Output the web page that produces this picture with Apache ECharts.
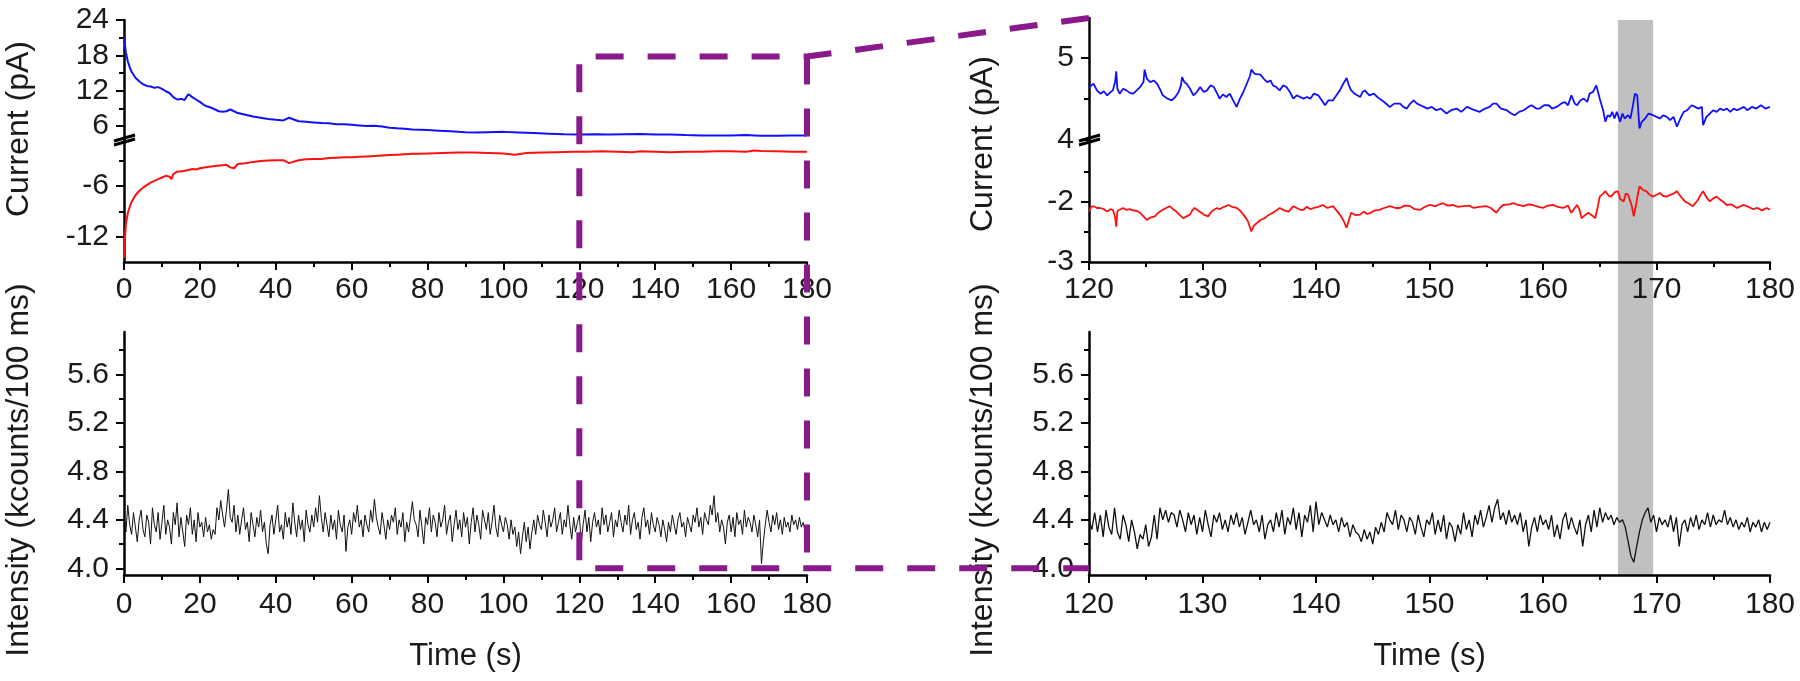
<!DOCTYPE html>
<html>
<head>
<meta charset="utf-8">
<script src="https://cdn.jsdelivr.net/npm/echarts@6/dist/echarts.min.js"></script>
<style>html,body{margin:0;padding:0;background:#fff}#c{width:1800px;height:681px}</style>
</head>
<body>
<div id="c"></div>
<script>
// ---------------- DATA ----------------
const leftBlueTime = [0,0.5,1,1.5,2,3,4,5,6,7,8,9,10,11,12,13,14,15,16,16.5,17,18,19,20,21,22,23,24,25,26,27,28,29,30,32,34,36,38,40,42,43.5,44,46,48,50,52,54,56,58,60,62,64,66,68,70,72,74,76,78,80,83,86,90,93,96,100,104,108,112,116,120,124,128,132,136,140,144,148,152,156,160,164,166,168,172,176,180];
const leftBlueCurrent = [21.0,18.5,17.0,16.0,15.2,14.2,13.6,13.1,12.8,12.7,12.5,12.6,12.3,11.9,11.6,10.9,10.5,10.6,10.4,11.0,11.4,10.9,10.5,10.1,9.6,9.3,9.1,8.8,8.5,8.4,8.5,8.8,8.5,8.2,7.9,7.6,7.4,7.2,7.05,6.95,7.4,7.1,6.8,6.7,6.6,6.5,6.45,6.3,6.3,6.2,6.1,6.0,6.05,5.9,5.7,5.6,5.55,5.4,5.35,5.3,5.2,5.1,4.95,4.9,4.95,5.0,4.9,4.8,4.7,4.6,4.55,4.6,4.55,4.6,4.65,4.55,4.55,4.45,4.4,4.4,4.4,4.45,4.4,4.35,4.35,4.4,4.4];
const leftRedTime = [0,0.2,0.5,1,1.5,2,3,4,5,6,7,8,9,10,11,12,12.5,13,14,15,16,17,18,19,20,22,24,26,27,28,29,30,32,34,36,38,40,42,43.5,44,46,48,50,52,54,56,58,60,62,64,66,68,70,72,74,76,78,80,84,88,92,96,100,103,106,110,114,118,122,126,130,134,136,140,144,148,152,156,160,164,166,168,172,176,180];
const leftRedCurrent = [-14.5,-12.5,-10.5,-9.2,-8.5,-7.9,-7.1,-6.6,-6.2,-5.9,-5.6,-5.4,-5.2,-5.0,-4.8,-4.9,-5.2,-4.6,-4.3,-4.3,-4.2,-4.1,-4.0,-4.05,-3.9,-3.75,-3.65,-3.55,-3.5,-3.8,-3.9,-3.4,-3.3,-3.15,-3.05,-3.0,-2.95,-2.95,-3.3,-3.1,-2.95,-2.85,-2.8,-2.8,-2.7,-2.65,-2.6,-2.6,-2.55,-2.5,-2.45,-2.4,-2.35,-2.3,-2.25,-2.2,-2.2,-2.15,-2.1,-2.05,-2.05,-2.1,-2.15,-2.3,-2.1,-2.05,-2.0,-1.95,-1.95,-1.9,-1.95,-2.0,-1.9,-1.95,-2.0,-1.95,-1.95,-1.9,-1.9,-1.95,-1.8,-1.85,-1.9,-1.95,-1.95];

const leftIntensityStart = 0, leftIntensityStep = 0.5;
const leftIntensity = [
4.44,4.30,4.52,4.36,4.28,4.46,4.34,4.22,4.40,4.48,4.32,4.26,4.44,4.38,4.20,4.50,4.36,4.30,4.46,4.24,
4.38,4.52,4.28,4.40,4.34,4.20,4.46,4.36,4.54,4.26,4.42,4.30,4.18,4.44,4.36,4.50,4.28,4.40,4.22,4.46,
4.34,4.38,4.26,4.42,4.30,4.36,4.24,4.32,4.28,4.50,4.40,4.56,4.44,4.34,4.48,4.65,4.42,4.38,4.52,4.30,
4.44,4.28,4.40,4.50,4.32,4.38,4.22,4.46,4.36,4.26,4.42,4.34,4.48,4.30,4.38,4.20,4.12,4.36,4.44,4.28,
4.40,4.52,4.30,4.36,4.24,4.46,4.34,4.42,4.28,4.54,4.38,4.26,4.44,4.32,4.40,4.22,4.48,4.36,4.30,4.44,
4.34,4.50,4.38,4.60,4.42,4.30,4.46,4.36,4.26,4.44,4.32,4.40,4.24,4.48,4.36,4.30,4.44,4.14,4.34,4.40,
4.28,4.46,4.38,4.52,4.34,4.40,4.26,4.44,4.36,4.30,4.48,4.38,4.57,4.42,4.34,4.28,4.46,4.36,4.24,4.40,
4.32,4.44,4.38,4.50,4.28,4.40,4.34,4.46,4.22,4.38,4.30,4.42,4.55,4.40,4.36,4.26,4.48,4.34,4.20,4.42,
4.36,4.50,4.30,4.44,4.38,4.26,4.46,4.34,4.40,4.52,4.28,4.38,4.44,4.22,4.36,4.48,4.32,4.40,4.26,4.46,
4.34,4.42,4.20,4.38,4.50,4.30,4.44,4.36,4.24,4.48,4.40,4.32,4.46,4.28,4.38,4.52,4.34,4.26,4.44,4.36,
4.30,4.42,4.36,4.24,4.40,4.28,4.34,4.18,4.30,4.12,4.26,4.38,4.22,4.34,4.16,4.30,4.40,4.28,4.44,4.36,
4.32,4.48,4.38,4.26,4.44,4.34,4.40,4.50,4.30,4.38,4.46,4.28,4.40,4.34,4.52,4.36,4.24,4.42,4.30,4.38,
4.44,4.20,4.36,4.48,4.30,4.42,4.22,4.38,4.46,4.34,4.40,4.28,4.50,4.36,4.44,4.30,4.38,4.46,4.26,4.40,
4.34,4.48,4.38,4.30,4.44,4.36,4.52,4.28,4.40,4.46,4.32,4.38,4.24,4.42,4.50,4.34,4.40,4.28,4.46,4.36,
4.30,4.42,4.36,4.26,4.40,4.32,4.22,4.38,4.30,4.44,4.36,4.28,4.40,4.46,4.34,4.38,4.26,4.42,4.36,4.30,
4.44,4.38,4.50,4.34,4.42,4.28,4.46,4.40,4.36,4.52,4.44,4.60,4.38,4.46,4.30,4.40,4.34,4.20,4.38,4.44,
4.30,4.42,4.26,4.46,4.36,4.40,4.28,4.48,4.34,4.42,4.38,4.30,4.44,4.36,4.26,4.40,4.04,4.22,4.36,4.48,
4.38,4.30,4.44,4.36,4.46,4.32,4.40,4.28,4.42,4.34,4.38,4.30,4.44,4.36,4.40,4.32,4.42,4.34,4.38,4.30,
4.36];

const rightBlueTime = [120.0,120.2,120.4,120.7,121.0,121.3,121.6,121.9,122.1,122.3,122.4,122.5,122.7,123.0,123.3,123.6,123.9,124.2,124.5,124.8,124.9,125.1,125.4,125.7,126.0,126.3,126.5,126.9,127.3,127.6,127.9,128.1,128.2,128.4,128.6,128.9,129.2,129.5,129.8,130.1,130.4,130.7,131.0,131.3,131.5,131.8,132.1,132.4,132.7,133.0,133.3,133.6,133.9,134.2,134.3,134.6,135.1,135.4,135.7,136.0,136.2,136.5,136.8,137.1,137.4,137.7,138.0,138.3,138.6,138.9,139.2,139.5,139.8,140.2,140.5,140.8,141.1,141.5,141.8,142.1,142.4,142.7,142.9,143.1,143.4,143.9,144.1,144.3,144.7,145.1,145.4,145.6,146.0,146.5,146.9,147.4,147.7,148.0,148.3,148.6,148.9,149.2,149.5,149.8,150.2,150.6,151.0,151.5,151.9,152.4,152.8,153.3,153.8,154.4,154.9,155.3,155.6,155.9,156.3,156.8,157.2,157.5,157.9,158.3,158.7,159.0,159.4,159.7,160.1,160.5,160.8,161.2,161.6,161.9,162.2,162.5,162.8,163.0,163.3,163.6,163.9,164.1,164.4,164.7,165.0,165.3,165.5,165.7,165.9,166.1,166.3,166.5,166.8,167.0,167.2,167.5,167.7,167.9,168.1,168.3,168.5,168.7,169.0,169.3,169.7,170.0,170.3,170.6,170.9,171.2,171.5,171.8,172.1,172.4,172.7,173.1,173.4,173.7,174.0,174.1,174.4,174.7,175.0,175.3,175.6,175.9,176.2,176.5,176.8,177.1,177.4,177.7,178.0,178.4,178.8,179.2,179.6,180.0];
const rightBlueCurrent = [4.63,4.66,4.68,4.60,4.56,4.59,4.54,4.58,4.60,4.70,4.83,4.62,4.56,4.62,4.60,4.57,4.56,4.60,4.64,4.70,4.85,4.74,4.70,4.72,4.68,4.60,4.54,4.50,4.48,4.52,4.58,4.66,4.76,4.70,4.68,4.62,4.54,4.58,4.64,4.58,4.60,4.66,4.64,4.56,4.50,4.55,4.52,4.56,4.48,4.40,4.50,4.58,4.68,4.78,4.85,4.80,4.79,4.74,4.70,4.72,4.66,4.64,4.60,4.66,4.64,4.58,4.50,4.54,4.52,4.50,4.52,4.50,4.56,4.54,4.48,4.42,4.48,4.48,4.54,4.60,4.68,4.75,4.66,4.60,4.56,4.52,4.58,4.60,4.54,4.56,4.52,4.50,4.46,4.40,4.44,4.44,4.40,4.38,4.44,4.48,4.44,4.42,4.40,4.38,4.40,4.36,4.38,4.32,4.36,4.38,4.34,4.40,4.37,4.34,4.38,4.40,4.44,4.44,4.38,4.36,4.32,4.30,4.34,4.36,4.40,4.42,4.38,4.38,4.42,4.42,4.38,4.40,4.44,4.46,4.42,4.54,4.44,4.42,4.48,4.50,4.46,4.56,4.58,4.66,4.50,4.36,4.22,4.30,4.28,4.34,4.26,4.34,4.22,4.32,4.26,4.30,4.26,4.40,4.56,4.54,4.14,4.22,4.26,4.32,4.30,4.28,4.26,4.30,4.28,4.24,4.28,4.16,4.26,4.34,4.36,4.42,4.40,4.38,4.40,4.18,4.28,4.32,4.36,4.34,4.38,4.36,4.38,4.34,4.38,4.36,4.38,4.40,4.36,4.40,4.38,4.42,4.38,4.40];

const rightRedTime = [120.0,120.2,120.4,120.7,121.0,121.3,121.6,121.9,122.1,122.3,122.4,122.5,122.7,123.0,123.3,123.6,123.9,124.2,124.5,124.8,125.1,125.4,125.8,126.1,126.5,126.8,127.1,127.4,127.7,128.0,128.3,128.6,128.9,129.1,129.3,129.6,129.9,130.2,130.5,130.8,131.0,131.3,131.5,131.9,132.3,132.6,133.0,133.3,133.6,133.8,134.0,134.3,134.5,134.8,135.1,135.5,135.8,136.2,136.5,136.8,137.2,137.6,138.0,138.3,138.6,138.9,139.2,139.5,139.8,140.2,140.6,141.0,141.5,141.8,142.1,142.4,142.7,142.9,143.1,143.5,143.9,144.2,144.5,144.8,145.2,145.6,146.0,146.5,147.0,147.4,147.8,148.3,148.7,149.2,149.6,150.0,150.5,151.0,151.2,151.6,152.1,152.5,153.0,153.5,153.9,154.4,155.0,155.4,155.9,156.2,156.5,157.0,157.4,157.8,158.3,158.7,159.1,159.6,160.0,160.4,160.9,161.3,161.8,162.2,162.5,162.8,163.0,163.2,163.4,163.7,164.0,164.3,164.6,164.8,165.0,165.3,165.5,165.8,166.0,166.3,166.6,166.8,167.1,167.3,167.5,167.8,168.0,168.2,168.3,168.5,168.8,169.1,169.4,169.7,170.0,170.3,170.6,170.9,171.2,171.5,171.8,172.1,172.5,172.8,173.2,173.6,173.9,174.1,174.4,174.7,175.0,175.3,175.6,175.9,176.2,176.6,177.1,177.5,177.7,178.1,178.5,178.9,179.3,179.7,180.0];
const rightRedCurrent = [-2.16,-2.08,-2.07,-2.10,-2.10,-2.12,-2.16,-2.12,-2.13,-2.25,-2.41,-2.15,-2.13,-2.10,-2.13,-2.12,-2.14,-2.15,-2.18,-2.24,-2.30,-2.26,-2.24,-2.18,-2.13,-2.10,-2.07,-2.12,-2.16,-2.22,-2.27,-2.24,-2.21,-2.14,-2.10,-2.14,-2.18,-2.22,-2.24,-2.16,-2.13,-2.10,-2.12,-2.08,-2.05,-2.08,-2.10,-2.14,-2.21,-2.26,-2.32,-2.49,-2.40,-2.35,-2.30,-2.27,-2.22,-2.18,-2.14,-2.10,-2.14,-2.16,-2.07,-2.10,-2.13,-2.13,-2.08,-2.12,-2.10,-2.08,-2.05,-2.10,-2.07,-2.14,-2.21,-2.30,-2.43,-2.30,-2.18,-2.22,-2.21,-2.16,-2.20,-2.18,-2.14,-2.13,-2.10,-2.07,-2.10,-2.10,-2.06,-2.07,-2.12,-2.13,-2.08,-2.05,-2.07,-2.03,-2.02,-2.06,-2.05,-2.08,-2.07,-2.06,-2.10,-2.08,-2.07,-2.10,-2.18,-2.10,-2.05,-2.04,-2.02,-2.05,-2.07,-2.04,-2.05,-2.08,-2.10,-2.06,-2.05,-2.08,-2.10,-2.06,-2.18,-2.10,-2.05,-2.12,-2.27,-2.22,-2.18,-2.22,-2.27,-2.10,-1.91,-1.86,-1.82,-1.90,-1.91,-1.84,-1.82,-1.95,-1.99,-1.86,-1.88,-2.05,-2.24,-2.05,-1.93,-1.74,-1.80,-1.82,-1.88,-1.91,-1.88,-1.85,-1.90,-1.91,-1.88,-1.86,-1.82,-1.90,-1.99,-2.02,-2.07,-1.98,-1.88,-1.82,-1.92,-1.99,-1.94,-1.91,-1.96,-2.00,-2.05,-2.04,-2.10,-2.06,-2.05,-2.08,-2.12,-2.10,-2.14,-2.10,-2.13];

const rightIntensityStart = 120, rightIntensityStep = 0.25;
const rightIntensity = [
4.40,4.32,4.46,4.30, 4.44,4.26,4.48,4.34, 4.28,4.50,4.30,4.24, 4.44,4.36,4.22,4.40, 4.30,4.16,4.28,4.24,
4.36,4.18,4.26,4.44, 4.24,4.50,4.40,4.48, 4.38,4.46,4.44,4.34, 4.48,4.40,4.30,4.46, 4.36,4.44,4.28,4.42,
4.30,4.48,4.36,4.26, 4.44,4.38,4.46,4.32, 4.40,4.30,4.44,4.36, 4.46,4.34,4.42,4.28, 4.38,4.48,4.36,4.40,
4.30,4.44,4.24,4.36, 4.40,4.30,4.46,4.34, 4.48,4.28,4.42,4.36, 4.50,4.32,4.46,4.26, 4.44,4.38,4.52,4.30,
4.55,4.36,4.46,4.40, 4.34,4.44,4.36,4.40, 4.30,4.42,4.34,4.38, 4.26,4.36,4.30,4.28, 4.22,4.32,4.24,4.30,
4.20,4.34,4.28,4.38, 4.30,4.46,4.40,4.36, 4.48,4.32,4.44,4.40, 4.30,4.42,4.38,4.28, 4.44,4.34,4.26,4.40,
4.36,4.46,4.28,4.40, 4.30,4.44,4.24,4.38, 4.34,4.22,4.36,4.28, 4.46,4.32,4.40,4.26, 4.44,4.36,4.48,4.34,
4.42,4.52,4.38,4.50, 4.57,4.40,4.46,4.36, 4.48,4.38,4.44,4.36, 4.46,4.30,4.40,4.18, 4.34,4.42,4.30,4.44,
4.36,4.40,4.32,4.44, 4.26,4.36,4.24,4.40, 4.46,4.32,4.42,4.34, 4.28,4.40,4.18,4.36, 4.44,4.30,4.48,4.34,
4.50,4.38,4.46,4.40, 4.44,4.36,4.42,4.38, 4.40,4.34,4.22,4.10, 4.05,4.18,4.30,4.40, 4.46,4.50,4.38,4.44,
4.30,4.42,4.36,4.40, 4.34,4.44,4.30,4.42, 4.18,4.36,4.40,4.30, 4.42,4.34,4.44,4.32, 4.40,4.36,4.46,4.34,
4.44,4.36,4.40,4.38, 4.48,4.36,4.42,4.34, 4.40,4.32,4.38,4.34, 4.42,4.30,4.38,4.34, 4.40,4.30,4.38,4.32,
4.38];

// tick labels
const leftTimeTicks = {min: 0, max: 180, interval: 20};
const rightTimeTicks = {min: 120, max: 180, interval: 10};
const leftUpperTicks = [6, 12, 18, 24], leftUpperMinor = [9, 15, 21];
const leftLowerTicks = [-12, -6], leftLowerMinor = [-9, -3];
const rightUpperTicks = [4, 5], rightUpperMinor = [4.5];
const rightLowerTicks = [-3, -2], rightLowerMinor = [-2.5, -1.5];
const intensityTicks = [4.0, 4.4, 4.8, 5.2, 5.6], intensityMinor = [4.2, 4.6, 5.0, 5.4, 5.8];
const zoomBox = {t0: 120, t1: 180, currentTop: 17.8, intensityBottom: 4.0};
const highlight = {t0: 166.6, t1: 169.7};

// ---------------- CHART ----------------
const pair = (ts, vs) => ts.map((t, i) => [t, vs[i]]);
const seq = (start, step, vs) => vs.map((v, i) => [+(start + i * step).toFixed(3), v]);

const FONT = 'Liberation Sans, Arial, Helvetica, sans-serif';
const TXT = '#1a1a1a';
const TICK_FS = 30;
const chart = echarts.init(document.getElementById('c'), null, {renderer: 'canvas'});

const grids = [
  {left: 124, top: 20, width: 683, height: 120},
  {left: 124, top: 140, width: 683, height: 122},
  {left: 124, top: 332, width: 683, height: 243},
  {left: 1089, top: 18, width: 681, height: 122},
  {left: 1089, top: 140, width: 681, height: 122},
  {left: 1089, top: 332, width: 681, height: 243}
];

function xAxis(g, spec, visible, margin) {
  return {
    type: 'value', gridIndex: g, min: spec.min, max: spec.max, interval: spec.interval,
    show: visible, position: 'bottom',
    axisLine: {show: true, onZero: false, lineStyle: {color: '#000', width: 2.5}},
    axisTick: {show: true, inside: false, length: 8, lineStyle: {color: '#000', width: 2}},
    minorTick: {show: true, splitNumber: 2, length: 5, lineStyle: {color: '#000', width: 2}},
    axisLabel: {show: true, margin: margin, fontSize: TICK_FS, fontFamily: FONT, color: TXT},
    splitLine: {show: false}, minorSplitLine: {show: false}
  };
}
function yAxis(g, min, max, ticks, fmt) {
  return {
    type: 'value', gridIndex: g, min: min, max: max, position: 'left',
    axisLine: {show: true, onZero: false, lineStyle: {color: '#000', width: 2.5}},
    axisTick: {show: true, inside: false, length: 8, customValues: ticks, lineStyle: {color: '#000', width: 2}},
    axisLabel: {show: true, margin: 15, customValues: ticks, fontSize: TICK_FS, fontFamily: FONT, color: TXT,
      formatter: fmt || (v => String(v))},
    splitLine: {show: false}
  };
}
function yMinor(g, min, max, ticks) {
  return {
    type: 'value', gridIndex: g, min: min, max: max, position: 'left', offset: 0,
    axisLine: {show: false},
    axisTick: {show: true, inside: false, length: 5, customValues: ticks, lineStyle: {color: '#000', width: 2}},
    axisLabel: {show: false},
    splitLine: {show: false}
  };
}
const f1 = v => v.toFixed(1);

const yRanges = [
  [3.62, 24], [-15, -0.56], [3.945, 5.95],
  [4, 5.475], [-3, -0.967], [3.945, 5.95]
];
const timeName = {name: 'Time (s)', nameLocation: 'middle', nameGap: 66,
  nameTextStyle: {fontSize: 31, fontFamily: FONT, color: TXT}};

const option = {
  animation: false,
  backgroundColor: '#fff',
  grid: grids,
  xAxis: [
    xAxis(0, leftTimeTicks, false, 13),
    xAxis(1, leftTimeTicks, true, 13),
    Object.assign(xAxis(2, leftTimeTicks, true, 15), timeName),
    xAxis(3, rightTimeTicks, false, 13),
    xAxis(4, rightTimeTicks, true, 13),
    Object.assign(xAxis(5, rightTimeTicks, true, 15), timeName)
  ],
  yAxis: [
    yAxis(0, yRanges[0][0], yRanges[0][1], leftUpperTicks),
    yAxis(1, yRanges[1][0], yRanges[1][1], leftLowerTicks),
    yAxis(2, yRanges[2][0], yRanges[2][1], intensityTicks, f1),
    yAxis(3, yRanges[3][0], yRanges[3][1], rightUpperTicks),
    yAxis(4, yRanges[4][0], yRanges[4][1], rightLowerTicks),
    yAxis(5, yRanges[5][0], yRanges[5][1], intensityTicks, f1),
    yMinor(0, yRanges[0][0], yRanges[0][1], leftUpperMinor),
    yMinor(1, yRanges[1][0], yRanges[1][1], leftLowerMinor),
    yMinor(2, yRanges[2][0], yRanges[2][1], intensityMinor),
    yMinor(3, yRanges[3][0], yRanges[3][1], rightUpperMinor),
    yMinor(4, yRanges[4][0], yRanges[4][1], rightLowerMinor),
    yMinor(5, yRanges[5][0], yRanges[5][1], intensityMinor)
  ],
  series: [
    {type: 'line', xAxisIndex: 0, yAxisIndex: 0, data: pair(leftBlueTime, leftBlueCurrent), showSymbol: false, symbol: 'none',
      lineStyle: {color: '#1010ff', width: 2}, z: 3},
    {type: 'line', xAxisIndex: 1, yAxisIndex: 1, data: pair(leftRedTime, leftRedCurrent), showSymbol: false, symbol: 'none',
      lineStyle: {color: '#ff1010', width: 2}, z: 3},
    {type: 'line', xAxisIndex: 2, yAxisIndex: 2, data: seq(leftIntensityStart, leftIntensityStep, leftIntensity), showSymbol: false, symbol: 'none',
      lineStyle: {color: '#111', width: 1}, z: 3},
    {type: 'line', xAxisIndex: 3, yAxisIndex: 3, data: pair(rightBlueTime, rightBlueCurrent), showSymbol: false, symbol: 'none',
      lineStyle: {color: '#1010ff', width: 1.8}, z: 3},
    {type: 'line', xAxisIndex: 4, yAxisIndex: 4, data: pair(rightRedTime, rightRedCurrent), showSymbol: false, symbol: 'none',
      lineStyle: {color: '#ff1010', width: 1.8}, z: 3},
    {type: 'line', xAxisIndex: 5, yAxisIndex: 5, data: seq(rightIntensityStart, rightIntensityStep, rightIntensity), showSymbol: false, symbol: 'none',
      lineStyle: {color: '#111', width: 1.3}, z: 3}
  ]
};
chart.setOption(option);

// ---- overlays computed through the axes ----
const P = (xi, yi, x, y) => chart.convertToPixel({xAxisIndex: xi, yAxisIndex: yi}, [x, y]);
const A = P(0, 0, zoomBox.t0, zoomBox.currentTop);
const B = P(0, 0, zoomBox.t1, zoomBox.currentTop);
const C = P(2, 2, zoomBox.t0, zoomBox.intensityBottom);
const D = P(2, 2, zoomBox.t1, zoomBox.intensityBottom);
const E = P(3, 3, rightTimeTicks.min, yRanges[3][1]);
const F = P(5, 5, rightTimeTicks.min, zoomBox.intensityBottom);
const H0 = P(5, 5, highlight.t0, yRanges[5][0]);
const H1 = P(5, 5, highlight.t1, yRanges[5][0]);
const Htop = P(3, 3, highlight.t0, yRanges[3][1])[1] + 2;
const brkL = P(0, 0, leftTimeTicks.min, yRanges[0][0]);
const brkR = P(3, 3, rightTimeTicks.min, yRanges[3][0]);

const PURPLE = '#8a1a8a';
const dash = {stroke: PURPLE, lineWidth: 6, lineDash: [28, 24], fill: null};
function breakMark(p, id) {
  return [
    {type: 'line', id: id + 'a', z: 10, shape: {x1: p[0] - 10, y1: p[1] + 1, x2: p[0] + 11, y2: p[1] - 5}, style: {stroke: '#000', lineWidth: 3}},
    {type: 'line', id: id + 'b', z: 10, shape: {x1: p[0] - 10, y1: p[1] + 5, x2: p[0] + 11, y2: p[1] - 1}, style: {stroke: '#000', lineWidth: 3}}
  ];
}
function vtext(id, x, y, text) {
  return {type: 'text', id: id, x: x, y: y, rotation: Math.PI / 2, z: 10,
    style: {text: text, font: '32px ' + FONT, fill: TXT, align: 'center', verticalAlign: 'middle'}};
}

chart.setOption({
  graphic: [
    {type: 'rect', id: 'band', z: -1, zlevel: 0, silent: true,
      shape: {x: H0[0], y: Htop, width: H1[0] - H0[0], height: H0[1] - Htop},
      style: {fill: '#c0c0c0'}},
    {type: 'polyline', id: 'zoomPath', z: 20, shape: {points: [E, B, A, [A[0], C[1]], F]}, style: dash},
    {type: 'line', id: 'zoomRight', z: 20, shape: {x1: B[0], y1: B[1], x2: D[0], y2: D[1]}, style: dash},
    ...breakMark(brkL, 'bl'),
    ...breakMark(brkR, 'br'),
    vtext('n1', 19, 129, 'Current (pA)'),
    vtext('n2', 19, 470, 'Intensity (kcounts/100 ms)'),
    vtext('n3', 983, 144, 'Current (pA)'),
    vtext('n4', 983, 470, 'Intensity (kcounts/100 ms)')
  ]
});
</script>
</body>
</html>
